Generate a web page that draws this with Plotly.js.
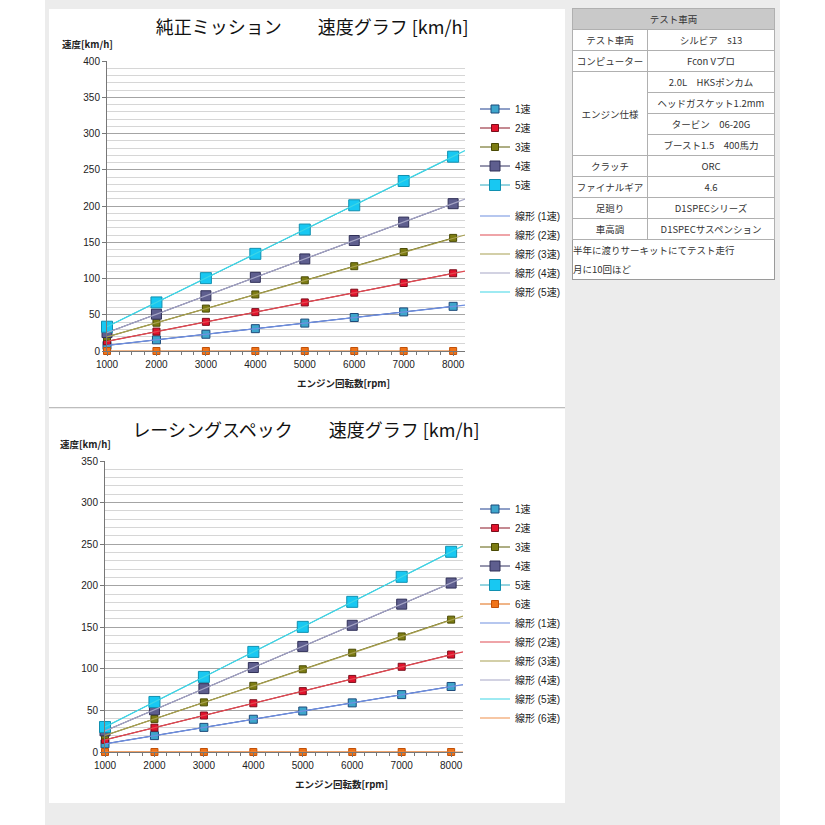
<!DOCTYPE html>
<html><head><meta charset="utf-8">
<script src="https://cdn.plot.ly/plotly-3.0.1.min.js"></script>
<style>
body{margin:0;background:#fff;width:825px;height:825px;position:relative;overflow:hidden;font-family:"Noto Sans CJK JP",sans-serif;}
#bg{position:absolute;left:45px;top:0;width:735px;height:825px;background:#ececec;}
#c1{position:absolute;left:49px;top:9px;width:516px;height:398px;background:#fff;}
#c2{position:absolute;left:49px;top:409px;width:516px;height:394px;background:#fff;}
#sep{position:absolute;left:49px;top:407px;width:516px;height:1px;background:#bdbdbd;}
#tbl{position:absolute;left:572px;top:8px;width:202px;border-collapse:collapse;border:1px solid #9a9a9a;background:#fff;font-size:9.5px;color:#333;table-layout:fixed;}
#tbl td{border:1px solid #b0b0b0;text-align:center;padding:0;height:20px;line-height:12px;white-space:nowrap;overflow:hidden;}
#tbl td.h{background:#c9c9c9;}
#tbl td.n{text-align:left;border-left:1px solid #9a9a9a;border-right:none;border-bottom:none;height:39px;line-height:19px;vertical-align:middle;}
</style>
</head><body>
<div id="bg"></div>
<div id="c1"></div>
<div id="sep"></div>
<div id="c2"></div>
<table id="tbl">
<colgroup><col style="width:75px"><col style="width:127px"></colgroup>
<tr><td class="h" colspan="2">テスト車両</td></tr>
<tr><td>テスト車両</td><td>シルビア　s13</td></tr>
<tr><td>コンピューター</td><td>Fcon Vプロ</td></tr>
<tr><td rowspan="4">エンジン仕様</td><td>2.0L　HKSポンカム</td></tr>
<tr><td>ヘッドガスケット1.2mm</td></tr>
<tr><td>タービン　06-20G</td></tr>
<tr><td>ブースト1.5　400馬力</td></tr>
<tr><td>クラッチ</td><td>ORC</td></tr>
<tr><td>ファイナルギア</td><td>4.6</td></tr>
<tr><td>足廻り</td><td>D1SPECシリーズ</td></tr>
<tr><td>車高調</td><td>D1SPECサスペンション</td></tr>
<tr><td class="n" colspan="2">半年に渡りサーキットにてテスト走行<br>月に10回ほど</td></tr>
</table>
<script>
// ---- data ----
const rpm = [1000, 2000, 3000, 4000, 5000, 6000, 7000, 8000];
const rpmLabels = ['1000','2000','3000','4000','5000','6000','7000','8000'];
const gearNames = ['1速','2速','3速','4速','5速','6速'];
const trendNames = ['線形 (1速)','線形 (2速)','線形 (3速)','線形 (4速)','線形 (5速)','線形 (6速)'];

// 純正ミッション
const std1 = [7.7, 15.4, 23.1, 30.8, 38.5, 46.2, 53.9, 61.6];
const std2 = [13.4, 26.8, 40.2, 53.6, 67.0, 80.4, 93.8, 107.2];
const std3 = [19.5, 39.0, 58.5, 78.0, 97.5, 117.0, 136.5, 156.0];
const std4 = [25.4, 50.8, 76.2, 101.6, 127.0, 152.4, 177.8, 203.2];
const std5 = [33.5, 67.0, 100.5, 134.0, 167.5, 201.0, 234.5, 268.0];
const std6 = [0, 0, 0, 0, 0, 0, 0, 0];
const trendX = [1000, 8240];
const stdT1 = [7.7, 63.4];
const stdT2 = [13.4, 110.2];
const stdT3 = [19.5, 160.0];
const stdT4 = [25.4, 209.5];
const stdT5 = [33.5, 276.5];

// レーシングスペック
const race1 = [9.85, 19.7, 29.6, 39.4, 49.3, 59.1, 69.0, 78.8];
const race2 = [14.65, 29.3, 43.9, 58.6, 73.2, 87.9, 102.5, 117.2];
const race3 = [19.9, 39.8, 59.7, 79.6, 99.5, 119.4, 139.0, 159.2];
const race4 = [25.4, 50.8, 76.2, 101.6, 127.0, 152.4, 177.8, 203.2];
const race5 = [30.1, 60.2, 90.3, 120.4, 150.5, 180.6, 210.7, 240.8];
const race6 = [0, 0, 0, 0, 0, 0, 0, 0];
const raceT1 = [9.85, 81.0];
const raceT2 = [14.65, 120.5];
const raceT3 = [19.9, 163.5];
const raceT4 = [25.4, 209.5];
const raceT5 = [30.1, 248.0];
const raceT6 = [0, 0];

// ---- styles ----
const lineCol = ['#1f3f8f','#8a1424','#5c5c06','#2e2e5e','#2aa8c0','#e06a10'];
const mkFill  = ['#3ea6cc','#e3122c','#7c7c12','#5e5e8e','#18c8f2','#f07318'];
const mkLine  = ['#1d4a7a','#7a0d1a','#4a4a05','#303058','#1090b0','#c05008'];
const mkSize  = [8, 7, 7, 10, 11, 7];
const trCol   = ['#6f8fe0','#e04a52','#a8a052','#a6a6c6','#3fd6e6','#f0904a'];

const FONT = 'Liberation Sans, Noto Sans CJK JP, sans-serif';

function dataTrace(y, i, showleg, grp){
  return {type:'scatter', mode:'lines+markers', x:rpm, y:y, name:gearNames[i],
    line:{color:lineCol[i], width:1},
    marker:{symbol:'square', size:mkSize[i], color:mkFill[i], line:{color:mkLine[i], width:1}},
    cliponaxis:false, showlegend:showleg, legendgroup:grp, hoverinfo:'skip'};
}
function trendTrace(y, i, grp){
  return {type:'scatter', mode:'lines', x:trendX, y:y, name:trendNames[i],
    line:{color:trCol[i], width:1.2}, legendgroup:grp, hoverinfo:'skip'};
}

function layout(h, ymax, titleText, titleX, titleY, margin, legY, gap){
  return {
    width:516, height:h, margin:margin,
    paper_bgcolor:'#ffffff', plot_bgcolor:'#ffffff',
    font:{family:FONT, size:10, color:'#222'},
    title:{text:titleText, x:titleX, xanchor:'center', xref:'container', y:1-titleY/h, yanchor:'middle', yref:'container',
      font:{family:'Noto Sans CJK JP, sans-serif', size:18, color:'#111'}},
    xaxis:{range:[1000, 8240], tickvals:rpm, ticktext:rpmLabels, ticks:'outside', ticklen:4, tickcolor:'#777',
      showline:true, linecolor:'#777', linewidth:1, showgrid:false, zeroline:false,
      tickfont:{size:10, color:'#222'},
      minor:{ticks:'outside', ticklen:3, tickcolor:'#777', dtick:250, tick0:1000, showgrid:false}},
    yaxis:{range:[0, ymax], dtick:50, tick0:0, ticks:'outside', ticklen:4, tickcolor:'#777',
      showline:true, linecolor:'#777', linewidth:1, zeroline:false,
      showgrid:true, gridcolor:'#a4a4a4', gridwidth:1, tickfont:{size:10, color:'#222'},
      minor:{dtick:10, tick0:0, showgrid:true, gridcolor:'#d6d6d6', gridwidth:1, ticks:''}},
    showlegend:true,
    legend:{x:426/516, xref:'container', xanchor:'left', y:1-legY/h, yref:'container', yanchor:'top',
      bgcolor:'rgba(0,0,0,0)', borderwidth:0, font:{size:10, color:'#222'},
      traceorder:'grouped', tracegroupgap:gap, itemwidth:30, maxheight:1000},
    annotations:[
      {text:'<b>速度[km/h]</b>', xref:'paper', yref:'paper', x:0, y:1, xshift:-47, yshift:17, xanchor:'left', yanchor:'middle',
       showarrow:false, font:{size:9.5, color:'#222', family:'Noto Sans CJK JP, sans-serif'}},
      {text:'<b>エンジン回転数[rpm]</b>', xref:'paper', yref:'paper', x:0.66, y:0, yshift:-32, xanchor:'center', yanchor:'middle',
       showarrow:false, font:{size:9.5, color:'#222', family:'Noto Sans CJK JP, sans-serif'}}
    ]
  };
}

const stdData = [
  dataTrace(std1,0,true,'a'), dataTrace(std2,1,true,'a'), dataTrace(std3,2,true,'a'),
  dataTrace(std4,3,true,'a'), dataTrace(std5,4,true,'a'), dataTrace(std6,5,false,'a'),
  trendTrace(stdT1,0,'b'), trendTrace(stdT2,1,'b'), trendTrace(stdT3,2,'b'), trendTrace(stdT4,3,'b'), trendTrace(stdT5,4,'b')
];
const raceData = [
  dataTrace(race1,0,true,'all'), dataTrace(race2,1,true,'all'), dataTrace(race3,2,true,'all'),
  dataTrace(race4,3,true,'all'), dataTrace(race5,4,true,'all'), dataTrace(race6,5,true,'all'),
  trendTrace(raceT1,0,'all'), trendTrace(raceT2,1,'all'), trendTrace(raceT3,2,'all'),
  trendTrace(raceT4,3,'all'), trendTrace(raceT5,4,'all'), trendTrace(raceT6,5,'all')
];

const cfg = {staticPlot:true, displayModeBar:false};
Plotly.newPlot('c1', stdData,
  layout(398, 400, '純正ミッション　　速度グラフ [km/h]', 0.51, 19, {l:58, r:100, t:52, b:56}, 85.5, 12), cfg);
Plotly.newPlot('c2', raceData,
  layout(394, 350, 'レーシングスペック　　速度グラフ [km/h]', 0.498, 22, {l:56, r:102, t:52, b:51}, 85.5, 0), cfg);
</script>
</body></html>
